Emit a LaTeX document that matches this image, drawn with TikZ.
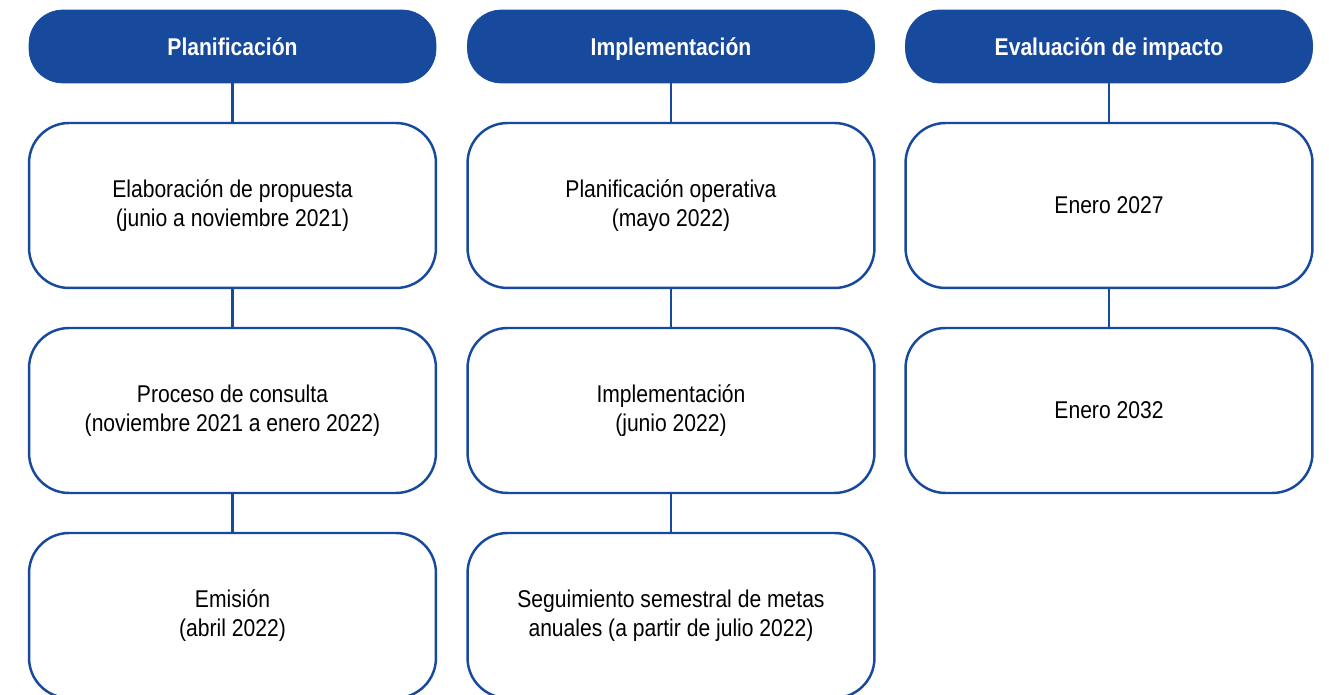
\documentclass[tikz,border=0pt]{standalone}
\usepackage{fontspec}
\setmainfont{Liberation Sans}[FakeStretch=0.87]
\usetikzlibrary{positioning}
\definecolor{planblue}{RGB}{23,73,157}

\begin{document}
\begin{tikzpicture}[
  x=0.02cm, y=-0.02cm,
  every node/.style={align=center, inner sep=0pt, font=\fontsize{13.8}{16.5}\selectfont},
  phase/.style={fill=planblue, draw=planblue, text=white, rounded corners=0.68cm,
                minimum width=8.14cm, minimum height=1.46cm, text height=10pt, text depth=0pt,
                font=\fontsize{13.8}{16.5}\selectfont\bfseries},
  stagebox/.style={draw=planblue, line width=1.4pt, fill=white, rounded corners=0.8cm,
                   minimum width=8.14cm, minimum height=3.3cm},
  link/.style={draw=planblue, line width=1.2pt}
]
\useasboundingbox (0,0) rectangle (1329,695);

\node[phase]    (plan-h) at (232.5,46.5)  {Planificación};
\node[stagebox] (plan-1) at (232.5,205.5) {Elaboración de propuesta\\(junio a noviembre 2021)};
\node[stagebox] (plan-2) at (232.5,410.5) {Proceso de consulta\\(noviembre 2021 a enero 2022)};
\node[stagebox] (plan-3) at (232.5,615.5) {Emisión\\(abril 2022)};

\draw[link] (plan-h) -- (plan-1);
\draw[link] (plan-1) -- (plan-2);
\draw[link] (plan-2) -- (plan-3);

\node[phase]    (impl-h) at (671,46.5)  {Implementación};
\node[stagebox] (impl-1) at (671,205.5) {Planificación operativa\\(mayo 2022)};
\node[stagebox] (impl-2) at (671,410.5) {Implementación\\(junio 2022)};
\node[stagebox] (impl-3) at (671,615.5) {Seguimiento semestral de metas\\anuales (a partir de julio 2022)};

\draw[link] (impl-h) -- (impl-1);
\draw[link] (impl-1) -- (impl-2);
\draw[link] (impl-2) -- (impl-3);

\node[phase]    (eval-h) at (1109,46.5)  {Evaluación de impacto};
\node[stagebox] (eval-1) at (1109,205.5) {Enero 2027};
\node[stagebox] (eval-2) at (1109,410.5) {Enero 2032};

\draw[link] (eval-h) -- (eval-1);
\draw[link] (eval-1) -- (eval-2);
\end{tikzpicture}
\end{document}
